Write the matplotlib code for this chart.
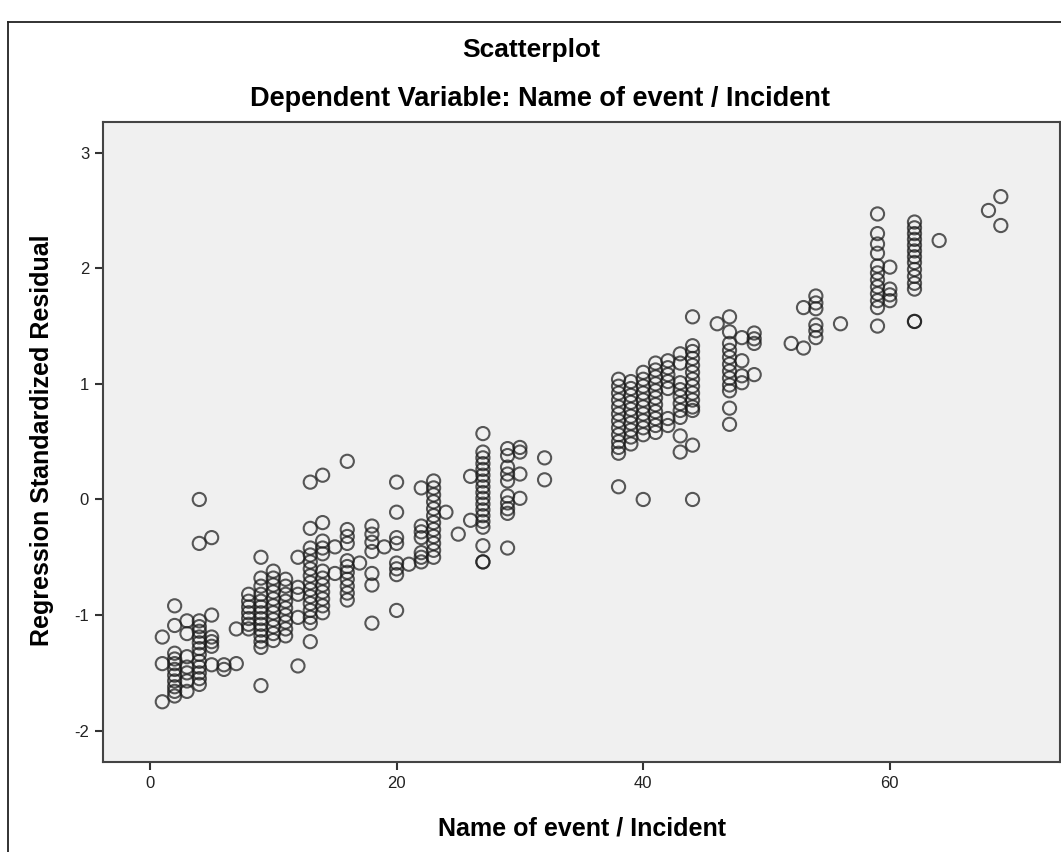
import matplotlib
matplotlib.use("Agg")
import matplotlib.pyplot as plt
from matplotlib.lines import Line2D

# Standardized residuals, grouped by the value of "Name of event / Incident"
res_01 = [-1.19, -1.42, -1.75]
res_02 = [-0.92, -1.09, -1.33, -1.38, -1.42, -1.47, -1.52, -1.57, -1.62, -1.66, -1.70]
res_03 = [-1.05, -1.16, -1.36, -1.45, -1.50, -1.57, -1.66]
res_04 = [0.0, -0.38, -1.05, -1.10, -1.14, -1.19, -1.24, -1.29, -1.34, -1.40, -1.45, -1.50, -1.55, -1.60]
res_05 = [-0.33, -1.0, -1.19, -1.23, -1.27, -1.43]
res_06 = [-1.43, -1.47]
res_07 = [-1.12, -1.42]
res_08 = [-0.82, -0.88, -0.93, -0.98, -1.03, -1.08, -1.12]
res_09 = [-0.5, -0.68, -0.75, -0.82, -0.88, -0.93, -0.98, -1.03, -1.08, -1.13, -1.18, -1.23, -1.28, -1.61]
res_10 = [-0.62, -0.68, -0.74, -0.80, -0.86, -0.92, -0.98, -1.04, -1.10, -1.16, -1.22]
res_11 = [-0.69, -0.75, -0.82, -0.88, -0.94, -1.00, -1.06, -1.12, -1.18]
res_12 = [-0.5, -0.76, -0.82, -1.02, -1.44]
res_13 = [0.15, -0.25, -0.42, -0.48, -0.54, -0.60, -0.66, -0.72, -0.78, -0.84, -0.90, -0.96, -1.02, -1.07, -1.23]
res_14 = [0.21, -0.2, -0.36, -0.42, -0.47, -0.62, -0.68, -0.74, -0.80, -0.86, -0.92, -0.98]
res_15 = [-0.41, -0.64]
res_16 = [0.33, -0.26, -0.32, -0.38, -0.53, -0.58, -0.63, -0.69, -0.75, -0.81, -0.87]
res_17 = [-0.55]
res_18 = [-0.23, -0.30, -0.37, -0.45, -0.64, -0.74, -1.07]
res_19 = [-0.41]
res_20 = [0.15, -0.11, -0.33, -0.38, -0.55, -0.60, -0.65, -0.96]
res_21 = [-0.56]
res_22 = [0.10, -0.23, -0.28, -0.33, -0.46, -0.50, -0.54]
res_23 = [0.16, 0.10, 0.04, -0.02, -0.08, -0.14, -0.20, -0.26, -0.32, -0.38, -0.44, -0.50]
res_24 = [-0.11]
res_25 = [-0.30]
res_26 = [0.2, -0.18]
res_27 = [0.57, 0.41, 0.36, 0.31, 0.26, 0.21, 0.16, 0.11, 0.06, 0.01, -0.04, -0.09,
          -0.14, -0.19, -0.24, -0.40, -0.54, -0.54]
res_29 = [0.44, 0.38, 0.28, 0.22, 0.16, 0.03, -0.03, -0.08, -0.12, -0.42]
res_30 = [0.45, 0.41, 0.22, 0.01]
res_32 = [0.36, 0.17]
res_38 = [1.04, 0.98, 0.92, 0.86, 0.80, 0.74, 0.68, 0.62, 0.56, 0.50, 0.45, 0.40, 0.11]
res_39 = [1.02, 0.96, 0.90, 0.84, 0.78, 0.72, 0.66, 0.60, 0.54, 0.48]
res_40 = [1.10, 1.04, 0.98, 0.92, 0.86, 0.80, 0.74, 0.68, 0.62, 0.56, 0.0]
res_41 = [1.18, 1.12, 1.06, 1.00, 0.94, 0.88, 0.82, 0.76, 0.70, 0.64, 0.58]
res_42 = [1.20, 1.14, 1.08, 1.02, 0.96, 0.70, 0.64]
res_43 = [1.26, 1.18, 1.01, 0.95, 0.89, 0.83, 0.77, 0.71, 0.55, 0.41]
res_44 = [1.58, 1.33, 1.28, 1.22, 1.16, 1.10, 1.04, 0.98, 0.92, 0.86, 0.80, 0.77, 0.47, 0.0]
res_46 = [1.52]
res_47 = [1.58, 1.45, 1.35, 1.29, 1.23, 1.17, 1.11, 1.05, 0.99, 0.94, 0.79, 0.65]
res_48 = [1.40, 1.20, 1.07, 1.01]
res_49 = [1.44, 1.39, 1.35, 1.08]
res_52 = [1.35]
res_53 = [1.66, 1.31]
res_54 = [1.76, 1.70, 1.65, 1.51, 1.46, 1.40]
res_56 = [1.52]
res_59 = [2.47, 2.30, 2.21, 2.13, 2.02, 1.96, 1.90, 1.84, 1.78, 1.72, 1.66, 1.50]
res_60 = [2.01, 1.82, 1.77, 1.72]
res_62 = [2.40, 2.35, 2.30, 2.25, 2.20, 2.15, 2.10, 2.05, 1.99, 1.93, 1.87, 1.82, 1.54, 1.54]
res_64 = [2.24]
res_68 = [2.50]
res_69 = [2.62, 2.37]

event_values = [1, 2, 3, 4, 5, 6, 7, 8, 9, 10, 11, 12, 13, 14, 15, 16, 17, 18, 19, 20,
                21, 22, 23, 24, 25, 26, 27, 29, 30, 32, 38, 39, 40, 41, 42, 43, 44,
                46, 47, 48, 49, 52, 53, 54, 56, 59, 60, 62, 64, 68, 69]
residual_groups = [res_01, res_02, res_03, res_04, res_05, res_06, res_07, res_08, res_09,
                   res_10, res_11, res_12, res_13, res_14, res_15, res_16, res_17, res_18,
                   res_19, res_20, res_21, res_22, res_23, res_24, res_25, res_26, res_27,
                   res_29, res_30, res_32, res_38, res_39, res_40, res_41, res_42, res_43,
                   res_44, res_46, res_47, res_48, res_49, res_52, res_53, res_54, res_56,
                   res_59, res_60, res_62, res_64, res_68, res_69]

x_ticks = [0, 20, 40, 60]
y_ticks = [-2, -1, 0, 1, 2, 3]

xs, ys = [], []
for xv, group in zip(event_values, residual_groups):
    xs.extend([xv] * len(group))
    ys.extend(group)

plt.rcParams["font.family"] = ["Liberation Sans", "DejaVu Sans"]
plt.rcParams["axes.unicode_minus"] = False

W, H = 1061, 852
fig = plt.figure(figsize=(W / 100, H / 100), dpi=100)
fig.patch.set_facecolor("white")

# outer frame (left and top edges)
fig.add_artist(Line2D([8 / W, 8 / W], [0, 1 - 22 / H], color="#222222", lw=1.3))
fig.add_artist(Line2D([8 / W, 1], [1 - 22 / H, 1 - 22 / H], color="#222222", lw=1.3))

left, right, top, bottom = 103, 1060, 121.7, 762
ax = fig.add_axes([left / W, 1 - bottom / H, (right - left) / W, (bottom - top) / H])
ax.set_facecolor("#F0F0F0")

ax.scatter(xs, ys, s=90, facecolors="none", edgecolors=(0.1, 0.1, 0.1, 0.72),
           linewidths=1.5, zorder=3)

ax.set_xlim(-3.81, 73.8)
ax.set_ylim(-2.271, 3.268)
ax.set_xticks(x_ticks)
ax.set_yticks(y_ticks)
ax.tick_params(direction="out", length=6, width=1.5, color="#333333",
               labelsize=12, labelcolor="#222222", pad=4)
for sp in ax.spines.values():
    sp.set_color("#444444")
    sp.set_linewidth(1.5)

fig.text(582 / W, 1 - 828 / H, "Name of event / Incident", ha="center", va="center",
         fontsize=18, fontweight="bold")
fig.text(42 / W, 1 - 440 / H, "Regression Standardized Residual", ha="center", va="center",
         rotation=90, fontsize=18, fontweight="bold")

fig.text(531 / W, 1 - 50 / H, "Scatterplot", ha="center", va="center",
         fontsize=19, fontweight="bold")
fig.text(540 / W, 1 - 99 / H, "Dependent Variable: Name of event / Incident", ha="center",
         va="center", fontsize=19.5, fontweight="bold")

fig.savefig("out.png", dpi=100)
